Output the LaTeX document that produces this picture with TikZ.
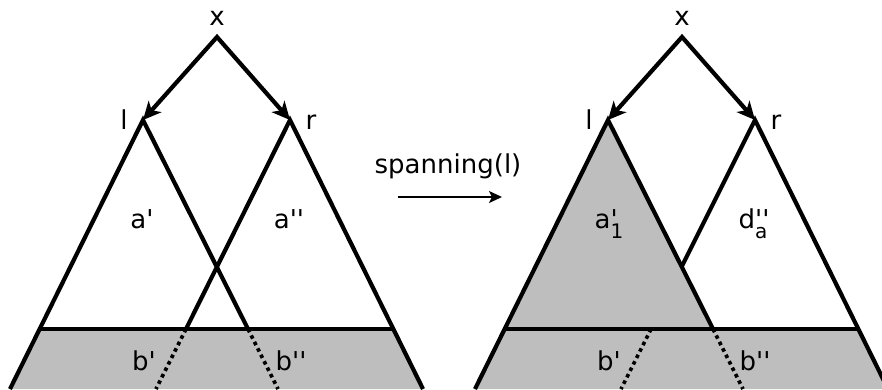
\documentclass[tikz,border=0pt]{standalone}
\usepackage{fontspec}
\setmainfont{DejaVu Sans}[Ligatures=TeXOff]
\usetikzlibrary{arrows.meta}
\definecolor{greyfill}{RGB}{190,190,190}
\tikzset{
  edgeline/.style={line width=4.2pt, line join=miter},
  dotline/.style={line width=3.6pt, dash pattern=on 3.6pt off 3.6pt},
  baseline/.style={line width=3.3pt},
  treearrow/.style={line width=4.2pt, line join=miter, {Stealth[length=18pt,width=17pt,inset=5pt]}-{Stealth[length=18pt,width=17pt,inset=5pt]}},
  opline/.style={line width=1.5pt, -{Stealth[length=13pt,width=12pt,inset=3pt]}},
  lbl/.style={font=\fontsize{26}{26}\selectfont, anchor=base, inner sep=0pt},
}
\newcommand{\mysubsup}[2]{\rlap{#1}\raisebox{-0.4em}{\fontsize{20}{20}\selectfont #2}}
\begin{document}
\begin{tikzpicture}[x=1pt,y=-1pt]
\useasboundingbox (0,0) rectangle (882,389);
\clip (0,0) rectangle (882,389);
% ---------- left diagram ----------
\coordinate (Lx) at (217,37);
\coordinate (Ll) at (143,120);
\coordinate (Lr) at (290,120);
\coordinate (Lll) at (10,389);
\coordinate (Llb) at (40,329);
\coordinate (Lrm) at (248,329);
\coordinate (Lrd) at (278,389);
\coordinate (Lrl) at (186,329);
\coordinate (Lrld) at (156,389);
\coordinate (Lrb) at (393,329);
\coordinate (Lrr) at (423,389);
\fill[greyfill] (Llb) -- (Lrb) -- (Lrr) -- (Lll) -- cycle;
\draw[edgeline] (Lll) -- (Ll) -- (Lrm);
\draw[edgeline] (Lrl) -- (Lr) -- (Lrr);
\draw[dotline] (Lrm) -- (Lrd);
\draw[dotline] (Lrl) -- (Lrld);
\draw[baseline] (Llb) -- (Lrb);
\draw[treearrow] (Ll) -- (Lx) -- (Lr);
\node[lbl] (Lxl) at (217,25) {x};
\node[lbl] (Lllab) at (124,129) {l};
\node[lbl] (Lrlab) at (311,129) {r};
\node[lbl] (La1) at (142,228) {a'};
\node[lbl] (La2) at (289,228) {a''};
\node[lbl] (Lb1) at (144,370) {b'};
\node[lbl] (Lb2) at (291,370) {b''};
% ---------- operation arrow ----------
\coordinate (As) at (398,197);
\coordinate (Ae) at (502,197);
\draw[opline] (As) -- (Ae);
\node[lbl] (Op) at (448,173) {spanning(l)};
% ---------- right diagram ----------
\coordinate (Rx) at (682,37);
\coordinate (Rl) at (608,120);
\coordinate (Rr) at (755,120);
\coordinate (Rll) at (475,389);
\coordinate (Rlb) at (505,329);
\coordinate (Rrm) at (713,329);
\coordinate (Rrd) at (743,389);
\coordinate (Rcross) at (681.5,267);
\coordinate (Rrl) at (651,329);
\coordinate (Rrld) at (621,389);
\coordinate (Rrb) at (858,329);
\coordinate (Rrr) at (888,389);
\fill[greyfill] (Rl) -- (Rrm) -- (Rrb) -- (Rrr) -- (Rll) -- cycle;
\draw[edgeline] (Rll) -- (Rl) -- (Rrm);
\draw[edgeline] (Rcross) -- (Rr) -- (Rrr);
\draw[dotline] (Rrm) -- (Rrd);
\draw[dotline] (Rrl) -- (Rrld);
\draw[baseline] (Rlb) -- (Rrb);
\draw[treearrow] (Rl) -- (Rx) -- (Rr);
\node[lbl] (Rxl) at (682,25) {x};
\node[lbl] (Rllab) at (589,129) {l};
\node[lbl] (Rrlab) at (776,129) {r};
\node[lbl] (Ra1) at (609,228) {a\mysubsup{'}{1}};
\node[lbl] (Rd2) at (753,228) {d\mysubsup{''}{a}};
\node[lbl] (Rb1) at (609,370) {b'};
\node[lbl] (Rb2) at (755,370) {b''};
\end{tikzpicture}
\end{document}
